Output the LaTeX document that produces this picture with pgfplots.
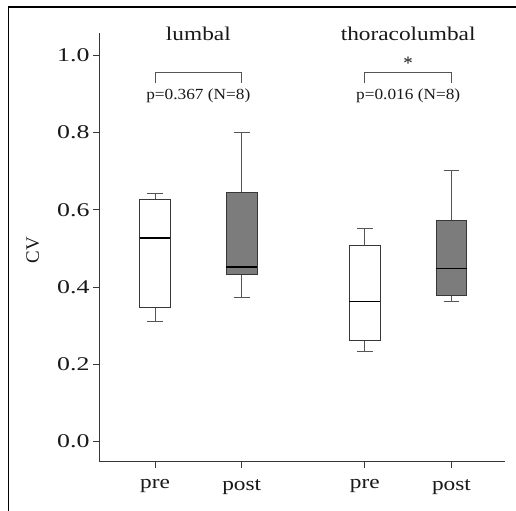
\documentclass[border=0pt]{standalone}
\usepackage{pgfplots}
\pgfplotsset{compat=1.18}
\usepgfplotslibrary{statistics}
\usepackage{fontspec}
\setmainfont{Liberation Serif}
\usepackage{graphicx}
\newcommand{\wide}[1]{\scalebox{1.2}[1]{#1}}
\definecolor{boxgray}{RGB}{124,124,124}
\definecolor{edge}{RGB}{55,55,55}
\definecolor{wisk}{RGB}{85,85,85}

\begin{document}
\begin{tikzpicture}
% page = 516 x 511 px, axis corner at px (99, 461.7)
\useasboundingbox (-99bp,-49.3bp) rectangle (417bp,461.7bp);
% outer frame (only left and top edges are visible)
\draw[black, line width=1.6bp] (-90.5bp,-52bp) -- (-90.5bp,454.5bp);
\draw[black, line width=1.6bp] (-91.3bp,454.5bp) -- (420bp,454.5bp);
\begin{axis}[
  at={(0,0)}, anchor=south west,
  scale only axis,
  width=406bp, height=428.7bp,
  xmin=0.354, xmax=5.037,
  ymin=-0.052, ymax=1.058,
  axis x line*=bottom, axis y line*=left,
  axis line style={edge, line width=1pt},
  tick style={edge, line width=1pt},
  major tick length=6bp,
  tick align=outside,
  xtick={1,2,3.42,4.42},
  xticklabels={\wide{pre},\wide{post},\wide{pre},\wide{post}},
  xticklabel style={yshift=-8bp},
  ytick={0,0.2,0.4,0.6,0.8,1.0},
  /pgf/number format/assume math mode=true,
  yticklabel={\scalebox{1.33}[1]{\pgfmathprintnumber[fixed,fixed zerofill,precision=1]{\tick}}},
  tick label style={font=\fontsize{19.5}{21}\selectfont, text=black!90},
  ylabel={CV},
  ylabel style={font=\fontsize{19}{21}\selectfont, text=black!90, at={(axis description cs:-0.163,0.494)}, anchor=center},
  boxplot/draw direction=y,
  boxplot/box extend=0.354,
  boxplot/whisker extend=0.18,
  boxplot/every box/.style={draw=edge, line width=1pt},
  boxplot/every whisker/.style={wisk, line width=1pt},
  boxplot/every median/.style={black, line width=1.8pt},
  clip=false,
]
% lumbal
\addplot[draw=edge, fill=white, boxplot prepared={draw position=1,
  median=0.527, upper quartile=0.627, lower quartile=0.348,
  upper whisker=0.642, lower whisker=0.312}] coordinates {};
\addplot[draw=edge, fill=boxgray, boxplot prepared={draw position=2,
  median=0.453, upper quartile=0.646, lower quartile=0.432,
  upper whisker=0.801, lower whisker=0.373}] coordinates {};
% thoracolumbal
\addplot[draw=edge, fill=white, boxplot prepared={draw position=3.42,
  median=0.363, upper quartile=0.507, lower quartile=0.263,
  upper whisker=0.551, lower whisker=0.234}] coordinates {};
\addplot[draw=edge, fill=boxgray, boxplot prepared={draw position=4.42,
  median=0.448, upper quartile=0.572, lower quartile=0.379,
  upper whisker=0.702, lower whisker=0.362}] coordinates {};

% group titles and tests
\node[font=\fontsize{19.5}{21}\selectfont, text=black!90] at (axis cs:1.5,1.057) {\wide{lumbal}};
\node[font=\fontsize{19.5}{21}\selectfont, text=black!90] at (axis cs:3.92,1.057) {\wide{thoracolumbal}};
\draw[wisk, line width=1pt] (axis cs:1,0.928) |- (axis cs:2,0.957) -- (axis cs:2,0.928);
\draw[wisk, line width=1pt] (axis cs:3.42,0.928) |- (axis cs:4.42,0.957) -- (axis cs:4.42,0.928);
\node[font=\fontsize{15.5}{17}\selectfont, text=black!90] at (axis cs:1.5,0.896) {\scalebox{1.12}[1]{p=0.367 (N=8)}};
\node[font=\fontsize{15.5}{17}\selectfont, text=black!90] at (axis cs:3.92,0.896) {\scalebox{1.12}[1]{p=0.016 (N=8)}};
\node[font=\fontsize{19}{21}\selectfont, text=black!90] at (axis cs:3.92,0.980) {*};
\end{axis}
\end{tikzpicture}
\end{document}
